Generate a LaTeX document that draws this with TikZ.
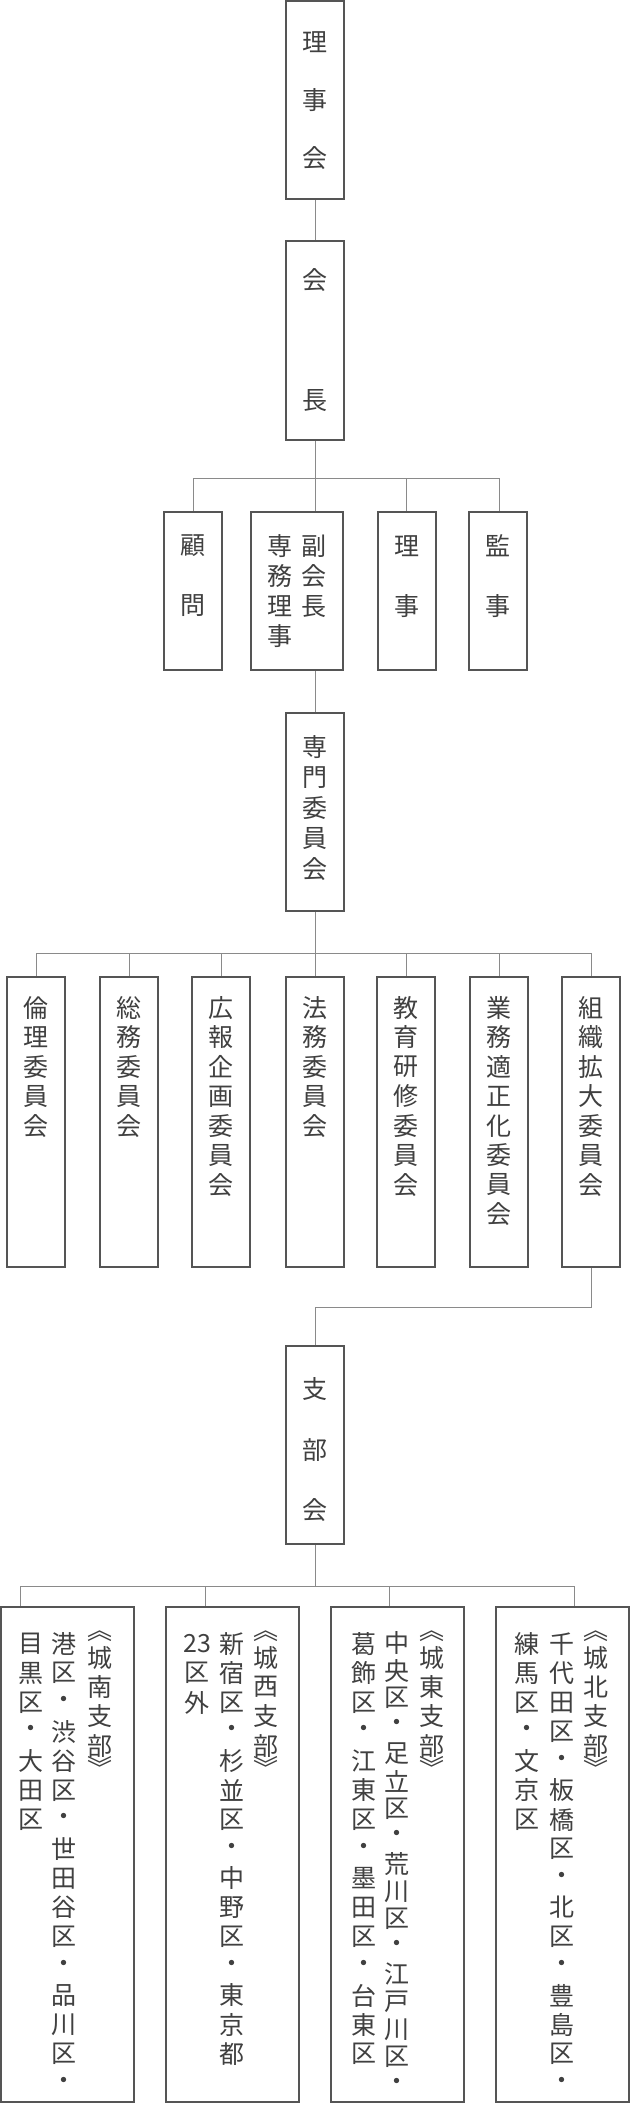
\documentclass[tikz,border=0pt]{standalone}
\usepackage{fontspec}
\setmainfont{Noto Sans CJK JP}
\makeatletter
\def\LB{︽}\def\RB{︾}
\def\LBt{\LB}\def\RBt{\RB}
\newcommand\vcellfull[2]{\hbox to 30pt{\hss\vbox to #1{\vss\hbox{#2}\vss}\hss}}
\newcommand\vt[2][29.3pt]{\vbox{\offinterlineskip\@tfor\x:=#2\do{%
  \ifx\x\LBt\vcellfull{14pt}{\LB}\else\ifx\x\RBt\vcellfull{14pt}{\RB}\else\vcellfull{#1}{\x}\fi\fi}}}
\makeatother
\definecolor{txt}{HTML}{404040}
\definecolor{bord}{HTML}{555555}
\definecolor{conn}{HTML}{8A8A8A}
\begin{document}
\begin{tikzpicture}[x=1pt,y=-1pt,
  box/.style={draw=bord,line width=1.6pt,fill=white},
  cn/.style={draw=conn,line width=1pt},
  ch/.style={text=txt,font=\fontsize{25}{25}\selectfont,inner sep=0pt},
  col/.style={text=txt,font=\fontsize{25}{25}\selectfont,inner sep=0pt,anchor=north}]
\useasboundingbox[fill=white] (0,0) rectangle (630,2103);
% connectors
\draw[cn] (315,199) -- (315,241);
\draw[cn] (315,440) -- (315,512);
\draw[cn] (193,478) -- (499,478);
\foreach \xx in {193,406,499} \draw[cn] (\xx,478) -- (\xx,512);
\draw[cn] (315,670) -- (315,713);
\draw[cn] (315,911) -- (315,977);
\draw[cn] (36,953) -- (591,953);
\foreach \xx in {36,129,221,406,499,591} \draw[cn] (\xx,953) -- (\xx,977);
\draw[cn] (591,1267) -- (591,1307) -- (315,1307) -- (315,1346);
\draw[cn] (315,1544) -- (315,1586);
\draw[cn] (20,1586) -- (574,1586);
\foreach \xx in {20,205,389,574} \draw[cn] (\xx,1586) -- (\xx,1607);
% boxes
\path[box] (286,1) rectangle (344,199);
\path[box] (286,241) rectangle (344,440);
\path[box] (164,512) rectangle (222,670);
\path[box] (251,512) rectangle (343,670);
\path[box] (378,512) rectangle (436,670);
\path[box] (469,512) rectangle (527,670);
\path[box] (286,713) rectangle (344,911);
\foreach \xx in {36,129,221,315,406,499,591} \path[box] (\xx-29,977) rectangle (\xx+29,1267);
\path[box] (286,1346) rectangle (344,1544);
\path[box] (1,1607) rectangle (134,2102);
\path[box] (166,1607) rectangle (299,2102);
\path[box] (331,1607) rectangle (464,2102);
\path[box] (496,1607) rectangle (629,2102);
% top texts
\node[ch] (a1) at (315,42) {理};
\node[ch] (a2) at (315,100) {事};
\node[ch] (a3) at (315,158) {会};
\node[ch] (b1) at (315,280) {会};
\node[ch] (b2) at (315,401) {長};
\node[ch] (c1) at (193,546) {顧};
\node[ch] (c2) at (193,606) {問};
\node[ch] (d1) at (407,546) {理};
\node[ch] (d2) at (407,606) {事};
\node[ch] (e1) at (498,546) {監};
\node[ch] (e2) at (498,606) {事};
\node[col] (f1) at (314,531) {\vt[30pt]{副会長}};
\node[col] (f2) at (280,531) {\vt[30pt]{専務理事}};
\node[col] (g) at (315,732) {\vt[30.5pt]{専門委員会}};
\node[col] (h1) at (36,993) {\vt[29.5pt]{倫理委員会}};
\node[col] (h2) at (129,993) {\vt[29.5pt]{総務委員会}};
\node[col] (h3) at (221,993) {\vt[29.5pt]{広報企画委員会}};
\node[col] (h4) at (315,993) {\vt[29.5pt]{法務委員会}};
\node[col] (h5) at (406,993) {\vt[29.5pt]{教育研修委員会}};
\node[col] (h6) at (499,993) {\vt[29.5pt]{業務適正化委員会}};
\node[col] (h7) at (591,993) {\vt[29.5pt]{組織拡大委員会}};
\node[ch] (s1) at (315,1389) {支};
\node[ch] (s2) at (315,1450) {部};
\node[ch] (s3) at (315,1510) {会};
% branches
\node[col] (p1) at (100,1629) {\vt{\LB 城南支部\RB}};
\node[col] (p2) at (64,1629) {\vt{港区・渋谷区・世田谷区・品川区・}};
\node[col] (p3) at (31,1629) {\vt{目黒区・大田区}};
\node[col] (q1) at (266,1629) {\vt{\LB 城西支部\RB}};
\node[col] (q2) at (232,1629) {\vt{新宿区・杉並区・中野区・東京都}};
\node[col] (q3) at (197,1629) {\vt{{23}区外}};
\node[col] (r1) at (432,1629) {\vt{\LB 城東支部\RB}};
\node[col] (r2) at (397,1629) {\vt[27.6pt]{中央区・足立区・荒川区・江戸川区・}};
\node[col] (r3) at (364,1629) {\vt{葛飾区・江東区・墨田区・台東区}};
\node[col] (t1) at (596,1629) {\vt{\LB 城北支部\RB}};
\node[col] (t2) at (562,1629) {\vt{千代田区・板橋区・北区・豊島区・}};
\node[col] (t3) at (527,1629) {\vt{練馬区・文京区}};
\end{tikzpicture}
\end{document}
